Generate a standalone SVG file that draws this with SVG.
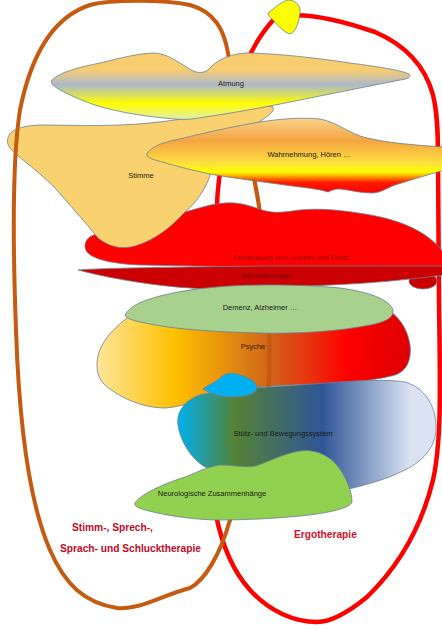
<svg xmlns="http://www.w3.org/2000/svg" width="442" height="630" viewBox="0 0 442 630">
<defs>
<linearGradient id="gAtm" x1="0" y1="0" x2="0" y2="1">
<stop offset="0" stop-color="#f8cc6c"/><stop offset="0.25" stop-color="#f8cd70"/><stop offset="0.48" stop-color="#acb9ca"/><stop offset="0.76" stop-color="#ffff00"/><stop offset="1" stop-color="#e2eeb0"/>
</linearGradient>
<linearGradient id="gWahr" x1="0" y1="0" x2="0" y2="1">
<stop offset="0" stop-color="#fad28a"/><stop offset="0.3" stop-color="#f4a441"/><stop offset="0.6" stop-color="#fde040"/><stop offset="0.72" stop-color="#ffff00"/><stop offset="0.86" stop-color="#ff1a00"/><stop offset="1" stop-color="#ff0000"/>
</linearGradient>
<linearGradient id="gPsy" x1="0" y1="0" x2="1" y2="0">
<stop offset="0" stop-color="#ffe699"/><stop offset="0.25" stop-color="#ffc000"/><stop offset="0.55" stop-color="#d0661a"/><stop offset="0.8" stop-color="#ff0000"/><stop offset="1" stop-color="#dd0000"/>
</linearGradient>
<linearGradient id="gStuetz" x1="0" y1="0" x2="1" y2="0">
<stop offset="0" stop-color="#00b0f0"/><stop offset="0.22" stop-color="#548235"/><stop offset="0.56" stop-color="#2f5597"/><stop offset="0.9" stop-color="#dae3f3"/><stop offset="1" stop-color="#dae3f3"/>
</linearGradient>
</defs>
<style>
.sh{stroke:#6b7f8f;stroke-width:0.8}
.t{font-family:"Liberation Sans",Arial,sans-serif;font-size:7.5px;fill:#1a1a1a;text-anchor:middle}
.lab{font-family:"Liberation Sans",Arial,sans-serif;font-size:10.2px;font-weight:bold;fill:#c00a28}
.brown{fill:none;stroke:#c55a11;stroke-width:4;stroke-linecap:round}
.red{fill:none;stroke:#ff0000;stroke-width:4.5;stroke-linecap:round}
</style>
<g id="connectors">
<path id="redLoop" class="red" d="M275,18 C 300,10 340,20 375,32 C 405,45 425,65 433,95 C 438,115 438,140 438,160 L 439,300 C 440,380 442,440 433,480 C 422,525 400,565 367,597 C 345,615 330,622 317,622 C 295,622 270,612 250,590 C 232,570 222,545 216,515 C 214,450 216,300 217,205 C 218,170 228,130 235,100 C 240,75 250,45 275,18"/>
</g>
<g id="psyche"><path class="sh" fill="url(#gPsy)" d="M97,365 C 97,350 105,335 127,318 C 140,305 160,294 200,289 C 250,283 330,285 370,300 C 395,310 407,325 410,345 C 412,362 405,372 395,375 C 370,382 330,384 290,385 C 260,386 230,390 210,395 C 195,402 180,407 165,408 C 140,408 115,395 103,383 C 98,377 97,370 97,365 Z"/>
<text class="t" x="253" y="349" style="fill:#3a1500">Psyche</text></g>
<g id="brownInner"><path class="brown" d="M228,53 C 235,100 258,180 262,230 C 268,290 272,350 268,400 C 262,460 240,500 230,520"/></g>
<g id="entwicklung"><path class="sh" fill="#ff0000" d="M85,245 C 86,238 92,234 100,234 L 150,225 C 165,218 175,213 185,212 C 200,208 210,204 225,203 C 240,202 250,206 262,210 C 275,214 285,212 300,210 C 320,208 340,210 365,214 C 390,218 410,225 425,235 C 435,242 442,250 445,255 L 445,268 L 300,267 C 250,267 180,266 140,265 C 115,264 95,260 88,253 C 85,250 85,247 85,245 Z"/>
<text class="t" x="292" y="260" style="fill:#a00000">Entwicklung von „Körper und Geist“</text></g>
<g id="behinderungen"><ellipse class="sh" cx="423" cy="281" rx="14" ry="8" fill="#cc0000"/>
<path class="sh" fill="#cc0000" d="M78,270 C 100,268 180,267 267,266 L 445,266 L 445,275 C 420,278 380,283 330,285 C 290,287 250,289 210,289 C 170,288 120,281 78,270 Z"/>
<text class="t" x="267" y="278" style="fill:#7a0000">Behinderungen</text></g>
<g id="stimme"><path class="sh" fill="#f9d16f" d="M8,138 C 10,130 20,126 40,125 C 70,125 110,127 150,123 C 190,119 220,112 250,107 C 262,105 270,106 273,107 C 275,110 270,115 262,120 C 255,125 240,135 225,145 C 215,150 213,160 212,168 C 210,180 200,200 185,212 C 170,228 155,240 135,246 C 120,250 108,246 98,238 C 85,222 70,205 55,188 C 35,168 15,155 10,148 C 7,144 7,141 8,138 Z"/>
<text class="t" x="141" y="178">Stimme</text></g>
<g id="brownOuter"><path class="brown" d="M228,53 C 224,30 215,12 190,5 C 160,-1 110,0 90,5 C 50,18 30,60 20,110 C 12,160 13,250 16,330 C 19,420 28,500 50,550 C 65,585 85,603 117,608 C 140,610 160,596 190,588 C 205,580 220,555 230,520"/></g>
<g id="atmung"><path class="sh" fill="url(#gAtm)" d="M52,80 C 60,72 80,67 100,63 C 120,58 140,53 155,53 C 168,54 178,62 188,68 C 195,73 202,74 208,70 C 215,62 225,55 245,53 C 270,53 310,57 350,63 C 380,67 400,70 409,74 C 412,77 408,79 400,80 C 370,86 320,96 280,104 C 250,110 225,114 205,117 C 195,119 185,120 175,119 C 150,117 120,113 95,105 C 75,98 58,90 53,85 C 51,83 51,81 52,80 Z"/>
<text class="t" x="231" y="86">Atmung</text></g>
<g id="wahrnehmung"><path class="sh" fill="url(#gWahr)" d="M147,154 C 150,148 160,143 175,140 C 200,134 230,127 260,122 C 280,119 300,117 320,119 C 335,122 345,130 360,136 C 380,142 410,145 445,147 L 445,170 C 420,177 405,182 395,185 C 385,189 380,193 372,193 C 360,193 350,190 340,189 C 333,189 331,191 328,192 C 322,190 310,188 300,187 C 270,183 240,179 215,175 C 190,170 165,163 152,159 C 148,157 146,156 147,154 Z"/>
<text class="t" x="309" y="157">Wahrnehmung, Hören …</text></g>
<g id="sonne"><path class="sh" fill="#ffff00" d="M268,13 C 275,8 280,2 288,0 C 296,0 301,6 300,13 C 299,22 296,32 290,34 C 285,33 278,26 273,20 C 270,18 268,15 268,13 Z"/></g>
<g id="demenz"><path class="sh" fill="#a9d18e" d="M125,315 C 130,305 145,300 160,296 C 180,291 200,288 230,286 C 270,284 310,285 340,288 C 370,292 390,300 393,310 C 394,318 385,322 370,325 C 340,331 300,334 260,333 C 220,332 180,330 150,324 C 135,321 126,319 125,315 Z"/>
<text class="t" x="260" y="310">Demenz, Alzheimer …</text></g>
<g id="stuetz"><path class="sh" fill="url(#gStuetz)" stroke="#ffffff" d="M178,425 C 176,412 185,400 200,395 C 230,388 260,388 300,385 C 340,382 380,378 405,382 C 425,388 435,405 436,425 C 437,445 425,460 405,470 C 385,480 365,485 345,490 L 300,482 C 260,480 230,474 205,467 C 190,458 180,440 178,425 Z"/>
<text class="t" x="283" y="436">Stütz- und Bewegungssystem</text></g>
<g id="tropfen"><path class="sh" fill="#00b0f0" d="M203,389 C 208,385 215,383 220,378 C 225,373 233,372 240,375 C 250,378 257,382 257,388 C 256,394 245,397 233,397 C 222,397 210,394 203,389 Z"/></g>
<g id="neuro"><path class="sh" fill="#92d050" d="M135,503 C 140,495 160,485 185,477 C 200,471 210,466 220,465 C 235,465 245,468 255,466 C 268,462 285,453 300,451 C 315,449 327,455 335,463 C 345,474 352,490 352,502 C 350,508 330,513 300,516 C 270,519 240,520 215,520 C 185,519 160,514 145,510 C 138,508 134,506 135,503 Z"/>
<text class="t" x="212" y="496">Neurologische Zusammenhänge</text></g>
<g id="labels">
<text class="lab" x="72" y="531">Stimm-, Sprech-,</text>
<text class="lab" x="60" y="552">Sprach- und Schlucktherapie</text>
<text class="lab" x="294" y="538" style="fill:#d0102c">Ergotherapie</text>
</g>
</svg>
